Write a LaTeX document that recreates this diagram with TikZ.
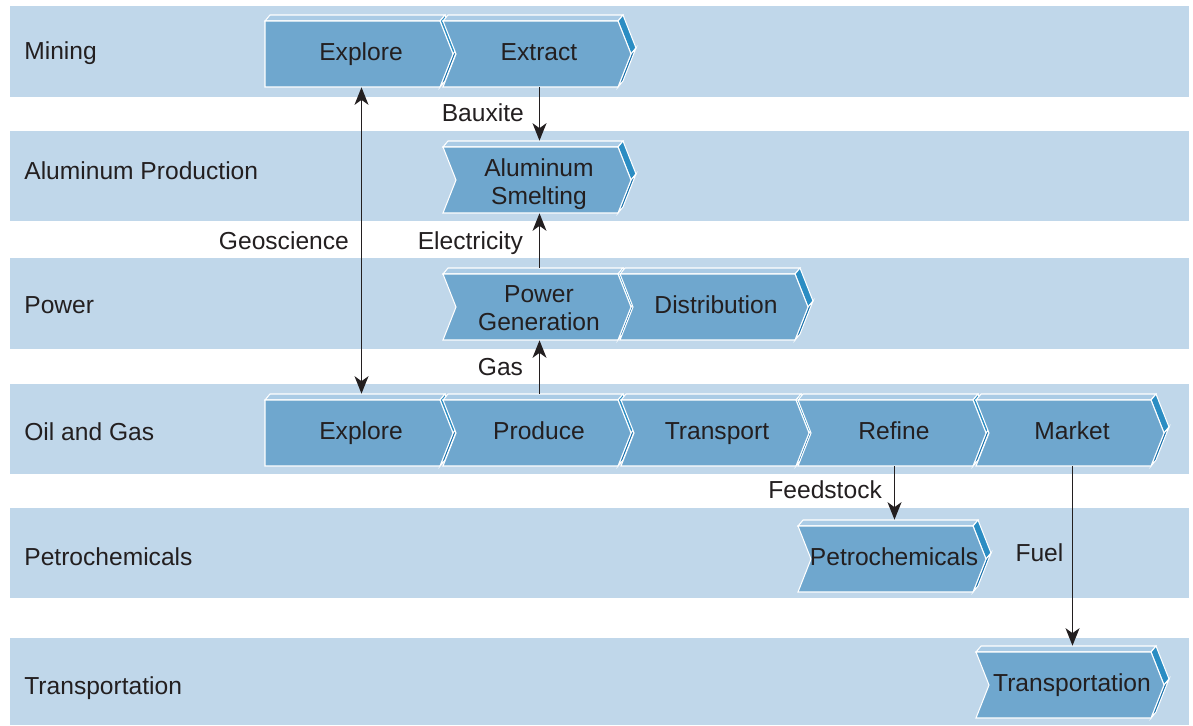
\documentclass[tikz,border=0pt]{standalone}
\usepackage{fontspec}
\setmainfont{Liberation Sans}
\usepackage{tikz}
\usetikzlibrary{arrows.meta, positioning}
\usepackage{xcolor}
\definecolor{bandblue}{HTML}{C0D7EA}
\definecolor{faceblue}{HTML}{6FA7CE}
\definecolor{topblue}{HTML}{AACBE5}
\definecolor{sideblue}{HTML}{2B8DC3}
\definecolor{sidedark}{HTML}{1670AC}
\definecolor{ink}{HTML}{231F20}
\newcommand{\lfont}{\fontsize{14}{16}\selectfont}
\tikzset{%
	ftip/.tip={Stealth[length=3.5mm, width=2.8mm, inset=1mm]},
	notch/.store in=\chevnotch, notch=13,
	textdrop/.store in=\chevdrop, textdrop=34,
	band/.style={fill=bandblue},
	face/.style={fill=faceblue, draw=white, line width=0.6pt},
	topface/.style={fill=topblue, draw=white, line width=0.6pt},
	sideface/.style={fill=sideblue, draw=white, line width=0.6pt},
	sidelow/.style={fill=sidedark, draw=white, line width=0.6pt},
	chevbox/.style={draw=none, minimum width=3.86cm, minimum height=1.44cm, inner sep=0pt},
	chevtext/.style={font=\lfont, text=ink, align=center, inner sep=0pt},
	rowlabel/.style={font=\lfont, text=ink, anchor=west, inner sep=0pt, text height=10pt, text depth=0pt},
	flowlabel/.style={font=\lfont, text=ink, inner sep=0pt, text height=10pt, text depth=0pt},
	flow/.style={draw=ink, line width=0.8pt, -ftip},
}
% chevron: [notch=.., textdrop=..]{name}{x}{y}{text}, (x,y) = top left of front face
\newcommand{\chev}[5][]{%
	\begin{scope}[#1]
	\filldraw[topface] (#3,#4) -- (#3+5,#4-6) -- (#3+180,#4-6) -- (#3+175,#4) -- cycle;
	\filldraw[sideface] (#3+175,#4) -- (#3+180,#4-6) -- (#3+193,#4+27) -- (#3+188,#4+33) -- cycle;
	\filldraw[sidelow] (#3+188,#4+33) -- (#3+193,#4+27) -- (#3+180,#4+60) -- (#3+175,#4+66) -- cycle;
	\filldraw[face] (#3,#4) -- (#3+175,#4) -- (#3+188,#4+33) -- (#3+175,#4+66) -- (#3,#4+66) -- (#3+\chevnotch,#4+33) -- cycle;
	\node[chevbox] (#2) at (#3+96.5,#4+30) {};
	\node[chevtext] (#2-t) at (#3+96,#4+\chevdrop) {\strut#5\strut};
	\end{scope}
}

\begin{document}
\begin{tikzpicture}[x=0.02cm, y=-0.02cm]
	\useasboundingbox (0,0) rectangle (1193,725);
	
	% bands
	\foreach \t/\b in {6/97, 131/221, 258/349, 384/474, 508/598, 638/725}
		\fill[band] (10,\t) rectangle (1189,\b);
	
	\node[rowlabel] (lmining) at (24,51) {Mining};
	\node[rowlabel] (lalu) at (24,171) {Aluminum Production};
	\node[rowlabel] (lpower) at (24,305) {Power};
	\node[rowlabel] (loil) at (24,432) {Oil and Gas};
	\node[rowlabel] (lpetro) at (24,557) {Petrochemicals};
	\node[rowlabel] (ltransp) at (24,686) {Transportation};
	
	% chevrons
	\chev[notch=0]{mexplore}{265}{21}{Explore}
	\chev{extract}{443}{21}{Extract}
	\chev[textdrop=38]{smelt}{443}{147}{Aluminum\\Smelting}
	\chev[textdrop=37]{powergen}{443}{274}{Power\\Generation}
	\chev{distrib}{620}{274}{Distribution}
	\chev[notch=0]{oexplore}{265}{400}{Explore}
	\chev{produce}{443}{400}{Produce}
	\chev{transport}{621}{400}{Transport}
	\chev{refine}{798}{400}{Refine}
	\chev{market}{976}{400}{Market}
	\chev{petro}{798}{526}{Petrochemicals}
	\chev{transp}{976}{652}{Transportation}
	
	% flows
	\draw[flow, ftip-ftip] (mexplore) -- node[flowlabel, left=6.8pt] (lgeo) {Geoscience} (oexplore);
	\draw[flow] (extract) -- node[flowlabel, left=8.5pt, pos=0.47] (lbaux) {Bauxite} (smelt);
	\draw[flow] (powergen) -- node[flowlabel, left=9pt] (lelec) {Electricity} (smelt);
	\draw[flow] (produce) -- node[flowlabel, left=9pt] (lgas) {Gas} (powergen);
	\draw[flow] (refine) -- node[flowlabel, left=6.8pt, pos=0.43] (lfeed) {Feedstock} (petro);
	\draw[flow] (market) -- node[flowlabel, left=4.8pt, pos=0.48] (lfuel) {Fuel} (transp);
	
\end{tikzpicture}
\end{document}
